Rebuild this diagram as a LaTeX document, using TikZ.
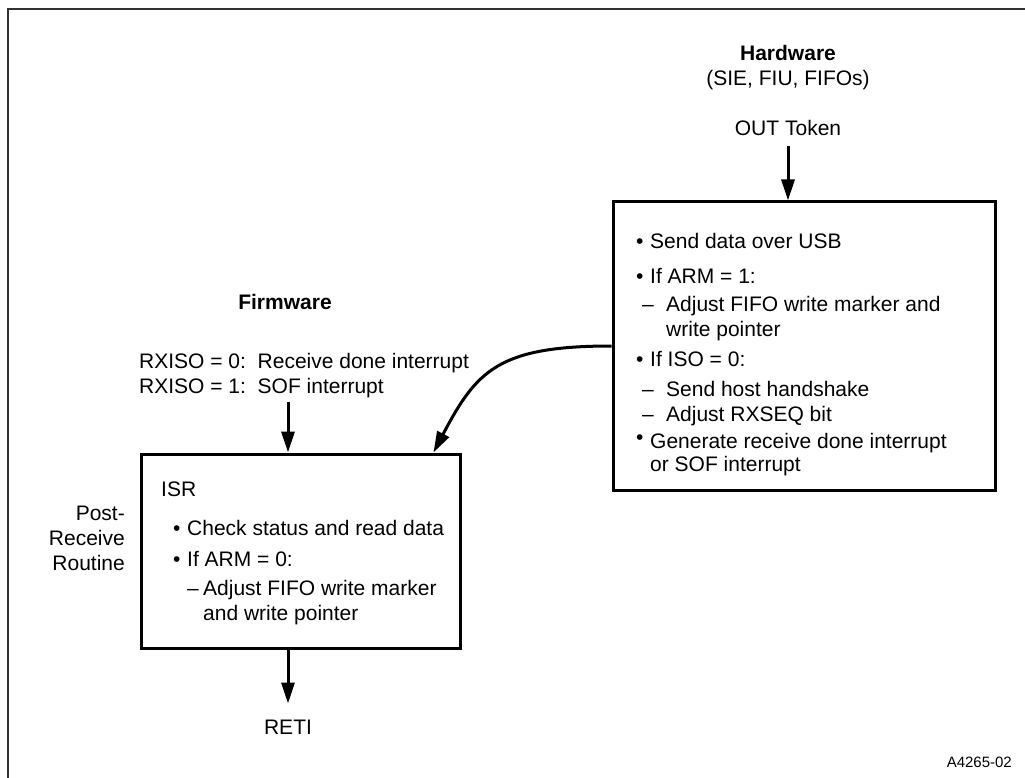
\documentclass[tikz,border=0pt]{standalone}
\usepackage{fontspec}
\setmainfont{Liberation Sans}
\usetikzlibrary{arrows.meta,positioning,calc}
\newcommand{\hwbul}{\makebox[14pt][l]{\textbullet}}
\newcommand{\hwdash}{\hspace*{6pt}\makebox[24pt][l]{\textendash}}
\newcommand{\isrbul}{\makebox[14pt][l]{\textbullet}}
\newcommand{\isrdash}{\makebox[16pt][l]{\textendash}}
\tikzset{
  procbox/.style={draw, line width=3pt, inner sep=0pt},
  boxtext/.style={anchor=north west, align=left, inner sep=0pt,
                  font=\fontsize{21}{25}\selectfont},
  lbl/.style={align=center, inner sep=0pt, font=\fontsize{21}{25}\selectfont},
  flowarrow/.style={-{Triangle[length=21pt,width=13pt]}, line width=3pt}
}
\begin{document}
\begin{tikzpicture}[x=1pt, y=-1pt]
\useasboundingbox (0,0) rectangle (1025,778);
% frame
\draw[line width=1.6pt, black!80] (8,778) -- (8,9) -- (1025,9);

% hardware side
\node[lbl] (hwtitle) at (788,68) {\textbf{Hardware}\\(SIE, FIU, FIFOs)};
\node[lbl] (token) at (788,128) {OUT Token};
\node[procbox, minimum width=382pt, minimum height=288pt] (hw) at (804,346) {};
\node[boxtext] (hwtext) at (636,233) {%
  \hwbul Send data over USB\\[10pt]
  \hwbul If ARM = 1:\\[3pt]
  \hwdash Adjust FIFO write marker and\\
  \hspace*{30pt}write pointer\\[5pt]
  \hwbul If ISO = 0:\\[5pt]
  \hwdash Send host handshake\\
  \hwdash Adjust RXSEQ bit\\[2pt]
  \makebox[14pt][l]{\raisebox{4pt}{\textbullet}}Generate receive done interrupt\\[-2pt]
  \hspace*{14pt}or SOF interrupt};

% firmware side
\node[lbl] (fwtitle) at (285,302) {\textbf{Firmware}};
\node[boxtext, anchor=west] (rxiso) at (139,376) {%
  RXISO = 0:\ \ Receive done interrupt\\
  RXISO = 1:\ \ SOF interrupt};
\coordinate (fwin) at (288,402);
\node[procbox, minimum width=319pt, minimum height=194pt] (isr) at (300.5,551) {};
\node[boxtext] (isrtext) at (161,481.5) {%
  ISR\\[14pt]
  \hspace*{12pt}\isrbul Check status and read data\\[6pt]
  \hspace*{12pt}\isrbul If ARM = 0:\\[4pt]
  \hspace*{26pt}\isrdash Adjust FIFO write marker\\
  \hspace*{42pt}and write pointer};
\node[lbl, align=right, anchor=east] (post) at (125,538) {Post-\\Receive\\Routine};
\node[lbl] (reti) at (288,727) {RETI};

\node[lbl, anchor=east, font=\fontsize{15}{18}\selectfont] (fig) at (1012,762) {A4265-02};

% connectors
\coordinate (isrtip) at ([xshift=-28pt]isr.north east);
\draw[flowarrow, shorten <=10pt] (token.south) -- (token.south |- hw.north);
\draw[flowarrow] (fwin) -- (fwin |- isr.north);
\draw[flowarrow, shorten >=16pt] (fwin |- isr.south) -- (reti.north);
\draw[flowarrow] (hw.west) .. controls +(-113,0) and +(43,-82) .. (isrtip);
\end{tikzpicture}
\end{document}
